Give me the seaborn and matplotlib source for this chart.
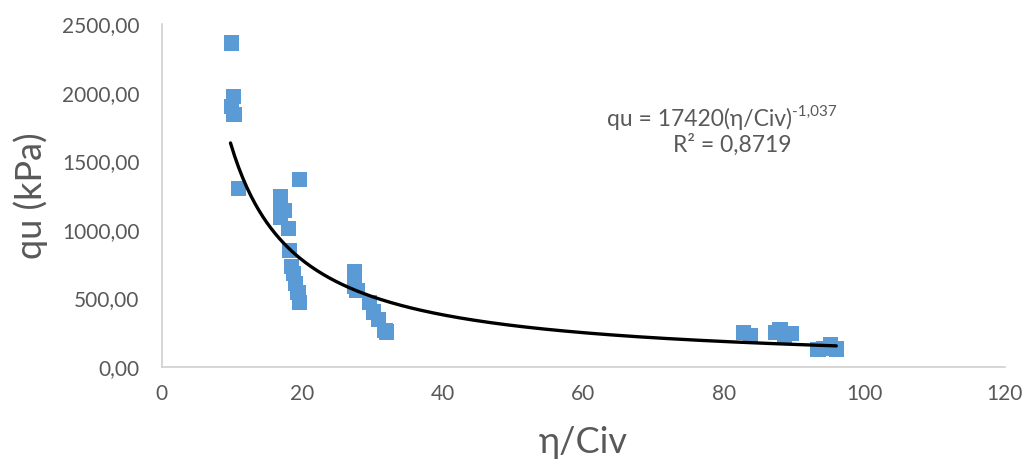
import numpy as np
import pandas as pd
import matplotlib
matplotlib.use("Agg")
import matplotlib.pyplot as plt
import seaborn as sns
from matplotlib.ticker import FuncFormatter

# data
eta_civ = [9.9, 10.2, 10.0, 10.3, 10.9,
           16.9, 16.9, 17.4, 16.9, 19.6, 18.0, 18.2, 18.5, 18.8, 19.1, 19.4, 19.6,
           27.5, 27.5, 27.8, 29.6, 30.2, 30.9, 31.8, 32.0,
           82.8, 83.8, 87.4, 88.0, 88.6, 89.6,
           93.4, 94.2, 95.2, 96.0]
qu = [2362, 1975, 1900, 1840, 1300,
      1240, 1180, 1140, 1090, 1365, 1010, 850, 730, 680, 610, 545, 470,
      695, 590, 560, 470, 400, 345, 265, 255,
      250, 225, 250, 270, 230, 245,
      125, 135, 160, 130]

fit_a = 17420
fit_b = -1.037
fit_x_range = [9.8, 96.0]

x_ticks = [0, 20, 40, 60, 80, 100, 120]
y_ticks = [0, 500, 1000, 1500, 2000, 2500]

sns.set_theme(style="white")
plt.rcParams['font.family'] = ['Lato', 'DejaVu Sans']

fig = plt.figure(figsize=(10.36, 4.65), dpi=100)
ax = fig.add_axes([0.156, 0.211, 0.814, 0.737])

df = pd.DataFrame({"x": eta_civ, "y": qu})
sns.scatterplot(data=df, x="x", y="y", marker="s", s=120, color="#5B9BD5",
                edgecolor="none", ax=ax, zorder=2)

xf = np.linspace(fit_x_range[0], fit_x_range[1], 300)
fit_df = pd.DataFrame({"x": xf, "y": fit_a * xf ** fit_b})
sns.lineplot(data=fit_df, x="x", y="y", color="black", linewidth=2.4, ax=ax, zorder=3)

ax.set_xlim(0, 120)
ax.set_ylim(0, 2500)
ax.set_xticks(x_ticks)
ax.set_yticks(y_ticks)
ax.yaxis.set_major_formatter(FuncFormatter(lambda v, p: f"{v:.2f}".replace(".", ",")))
ax.tick_params(axis="both", length=0, labelsize=15, labelcolor="#595959")
ax.tick_params(axis="y", pad=16)
ax.tick_params(axis="x", pad=12)

for side in ["top", "right"]:
    ax.spines[side].set_visible(False)
for side in ["left", "bottom"]:
    ax.spines[side].set_color("#d0d0d0")
    ax.spines[side].set_linewidth(1.2)

ax.set_xlabel("η/Civ", fontsize=26, color="#595959", labelpad=16)
ax.set_ylabel("qu (kPa)", fontsize=26, color="#595959", labelpad=10)

# equation annotation
ax.text(0.747, 0.703, "qu = 17420(η/Civ)", transform=ax.transAxes, ha="right",
        va="baseline", fontsize=16.5, color="#595959")
ax.text(0.747, 0.732, "-1,037", transform=ax.transAxes, ha="left",
        va="baseline", fontsize=11, color="#595959")
ax.text(0.677, 0.627, "R² = 0,8719", transform=ax.transAxes, ha="center",
        va="baseline", fontsize=16.5, color="#595959")

fig.savefig("out.png", dpi=100)
